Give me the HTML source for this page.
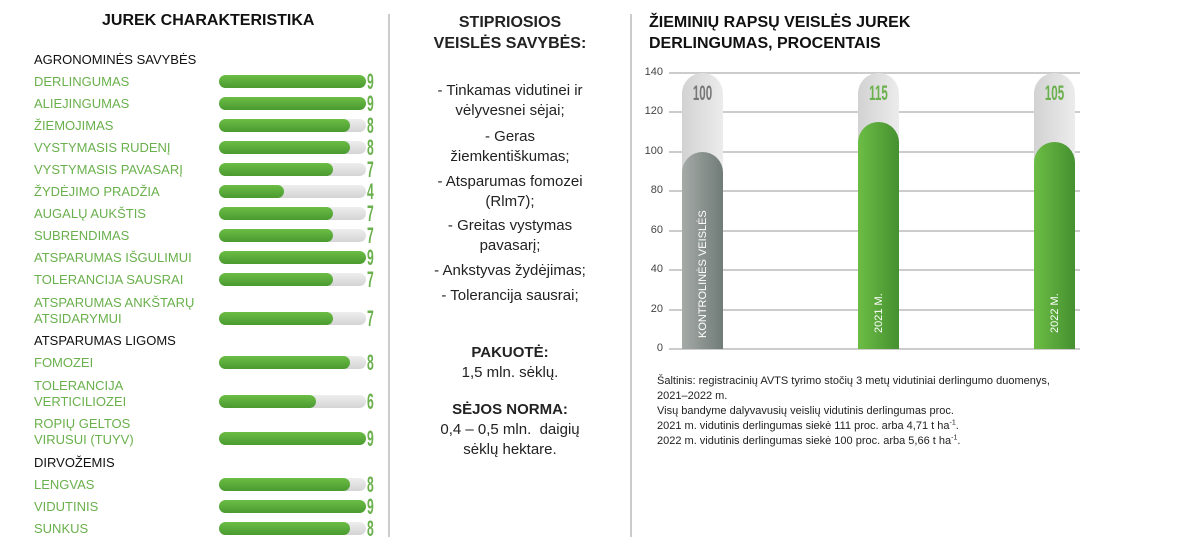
<!DOCTYPE html>
<html><head><meta charset="utf-8"><style>
body{margin:0;width:1200px;height:556px;background:#fff;position:relative;overflow:hidden;font-family:"Liberation Sans",sans-serif}
.a{position:absolute;white-space:nowrap}
.lb{position:absolute;left:34px;font-size:13px;color:#6ab04c;line-height:16px}
.hd{position:absolute;left:34px;font-size:13px;color:#111;line-height:16px}
.tr{position:absolute;left:219px;width:147px;height:13px;border-radius:7px;background:linear-gradient(#eee,#d4d4d4)}
.fl{height:13px;border-radius:7px;background:linear-gradient(#6bbd45,#4a9a30)}
.n{position:absolute;left:367px;font-size:22px;font-weight:bold;color:#6ab04c;transform:scaleX(.55);transform-origin:left;line-height:20px}
.c{position:absolute;left:400px;width:220px;text-align:center;font-size:15px;color:#222;line-height:20px}
.g{position:absolute;left:669px;width:411px;height:2px;background:#ccc}
.y{position:absolute;left:630px;width:33px;text-align:right;font-size:11px;color:#444}
.tube{position:absolute;width:41px;border-radius:21px 21px 0 0;background:linear-gradient(90deg,#d2d2d2,#ececec)}
.bar{position:absolute;width:41px;border-radius:21px 21px 0 0}
.gr{background:linear-gradient(90deg,#6cbd45,#459030)}
.gy{background:linear-gradient(90deg,#a5aaa7,#707b77)}
.v{position:absolute;font-size:21px;font-weight:bold;transform:scaleX(.55);width:41px;text-align:center}
.rot{position:absolute;color:#fff;font-size:11px;transform:rotate(-90deg);transform-origin:left top;white-space:nowrap}
sup{font-size:7px;line-height:0}
</style></head><body>
<div class="a" style="left:102px;top:12px;font-size:16px;font-weight:bold;color:#111">JUREK CHARAKTERISTIKA</div>
<div style="position:absolute;left:388px;top:14px;width:2px;height:523px;background:#ccc"></div>
<div style="position:absolute;left:630px;top:14px;width:2px;height:523px;background:#ccc"></div>

<div class="hd" style="top:52px">AGRONOMINĖS SAVYBĖS</div>
<div class="lb" style="top:74px">DERLINGUMAS</div><div class="tr" style="top:75px"><div class="fl" style="width:147px"></div></div><div class="n" style="top:72px">9</div>
<div class="lb" style="top:96px">ALIEJINGUMAS</div><div class="tr" style="top:97px"><div class="fl" style="width:147px"></div></div><div class="n" style="top:94px">9</div>
<div class="lb" style="top:118px">ŽIEMOJIMAS</div><div class="tr" style="top:119px"><div class="fl" style="width:131px"></div></div><div class="n" style="top:116px">8</div>
<div class="lb" style="top:140px">VYSTYMASIS RUDENĮ</div><div class="tr" style="top:141px"><div class="fl" style="width:131px"></div></div><div class="n" style="top:138px">8</div>
<div class="lb" style="top:162px">VYSTYMASIS PAVASARĮ</div><div class="tr" style="top:163px"><div class="fl" style="width:114px"></div></div><div class="n" style="top:160px">7</div>
<div class="lb" style="top:184px">ŽYDĖJIMO PRADŽIA</div><div class="tr" style="top:185px"><div class="fl" style="width:65px"></div></div><div class="n" style="top:182px">4</div>
<div class="lb" style="top:206px">AUGALŲ AUKŠTIS</div><div class="tr" style="top:207px"><div class="fl" style="width:114px"></div></div><div class="n" style="top:204px">7</div>
<div class="lb" style="top:228px">SUBRENDIMAS</div><div class="tr" style="top:229px"><div class="fl" style="width:114px"></div></div><div class="n" style="top:226px">7</div>
<div class="lb" style="top:250px">ATSPARUMAS IŠGULIMUI</div><div class="tr" style="top:251px"><div class="fl" style="width:147px"></div></div><div class="n" style="top:248px">9</div>
<div class="lb" style="top:272px">TOLERANCIJA SAUSRAI</div><div class="tr" style="top:273px"><div class="fl" style="width:114px"></div></div><div class="n" style="top:270px">7</div>
<div class="lb" style="top:295px">ATSPARUMAS ANKŠTARŲ<br>ATSIDARYMUI</div><div class="tr" style="top:312px"><div class="fl" style="width:114px"></div></div><div class="n" style="top:309px">7</div>
<div class="hd" style="top:333px">ATSPARUMAS LIGOMS</div>
<div class="lb" style="top:355px">FOMOZEI</div><div class="tr" style="top:356px"><div class="fl" style="width:131px"></div></div><div class="n" style="top:353px">8</div>
<div class="lb" style="top:378px">TOLERANCIJA<br>VERTICILIOZEI</div><div class="tr" style="top:395px"><div class="fl" style="width:97px"></div></div><div class="n" style="top:392px">6</div>
<div class="lb" style="top:416px">ROPIŲ GELTOS<br>VIRUSUI (TUYV)</div><div class="tr" style="top:432px"><div class="fl" style="width:147px"></div></div><div class="n" style="top:429px">9</div>
<div class="hd" style="top:455px">DIRVOŽEMIS</div>
<div class="lb" style="top:477px">LENGVAS</div><div class="tr" style="top:478px"><div class="fl" style="width:131px"></div></div><div class="n" style="top:475px">8</div>
<div class="lb" style="top:499px">VIDUTINIS</div><div class="tr" style="top:500px"><div class="fl" style="width:147px"></div></div><div class="n" style="top:497px">9</div>
<div class="lb" style="top:521px">SUNKUS</div><div class="tr" style="top:522px"><div class="fl" style="width:131px"></div></div><div class="n" style="top:519px">8</div>

<div class="c" style="top:12px;font-size:16px;font-weight:bold;line-height:21px">STIPRIOSIOS<br>VEISLĖS SAVYBĖS:</div>
<div class="c" style="top:81px">- Tinkamas vidutinei ir<br>vėlyvesnei sėjai;</div>
<div class="c" style="top:127px">- Geras<br>žiemkentiškumas;</div>
<div class="c" style="top:172px">- Atsparumas fomozei<br>(Rlm7);</div>
<div class="c" style="top:216px">- Greitas vystymas<br>pavasarį;</div>
<div class="c" style="top:261px">- Ankstyvas žydėjimas;</div>
<div class="c" style="top:286px">- Tolerancija sausrai;</div>
<div class="c" style="top:343px"><b>PAKUOTĖ:</b><br>1,5 mln. sėklų.</div>
<div class="c" style="top:400px"><b>SĖJOS NORMA:</b><br>0,4 – 0,5 mln.&nbsp; daigių<br>sėklų hektare.</div>

<div class="a" style="left:649px;top:12px;font-size:16px;font-weight:bold;color:#111;line-height:21px">ŽIEMINIŲ RAPSŲ VEISLĖS JUREK<br>DERLINGUMAS, PROCENTAIS</div>
<div class="g" style="top:72px"></div><div class="y" style="top:66px">140</div>
<div class="g" style="top:111px"></div><div class="y" style="top:105px">120</div>
<div class="g" style="top:151px"></div><div class="y" style="top:145px">100</div>
<div class="g" style="top:190px"></div><div class="y" style="top:184px">80</div>
<div class="g" style="top:230px"></div><div class="y" style="top:224px">60</div>
<div class="g" style="top:269px"></div><div class="y" style="top:263px">40</div>
<div class="g" style="top:309px"></div><div class="y" style="top:303px">20</div>
<div class="g" style="top:348px"></div><div class="y" style="top:342px">0</div>

<div class="tube" style="left:682px;top:73px;height:276px"></div>
<div class="bar gy" style="left:682px;top:152px;height:197px"></div>
<div class="v" style="left:682px;top:82px;color:#777">100</div>
<div class="rot" style="left:697px;top:338px">KONTROLINĖS VEISLĖS</div>

<div class="tube" style="left:858px;top:73px;height:276px"></div>
<div class="bar gr" style="left:858px;top:122px;height:227px"></div>
<div class="v" style="left:858px;top:82px;color:#6ab04c">115</div>
<div class="rot" style="left:873px;top:333px">2021 M.</div>

<div class="tube" style="left:1034px;top:73px;height:276px"></div>
<div class="bar gr" style="left:1034px;top:142px;height:207px"></div>
<div class="v" style="left:1034px;top:82px;color:#6ab04c">105</div>
<div class="rot" style="left:1049px;top:333px">2022 M.</div>

<div class="a" style="left:657px;top:374px;font-size:11px;color:#222;line-height:15px">Šaltinis: registracinių AVTS tyrimo stočių 3 metų vidutiniai derlingumo duomenys,<br>2021–2022 m.<br>Visų bandyme dalyvavusių veislių vidutinis derlingumas proc.<br>2021 m. vidutinis derlingumas siekė 111 proc. arba 4,71 t ha<sup>-1</sup>.<br>2022 m. vidutinis derlingumas siekė 100 proc. arba 5,66 t ha<sup>-1</sup>.</div>
</body></html>
